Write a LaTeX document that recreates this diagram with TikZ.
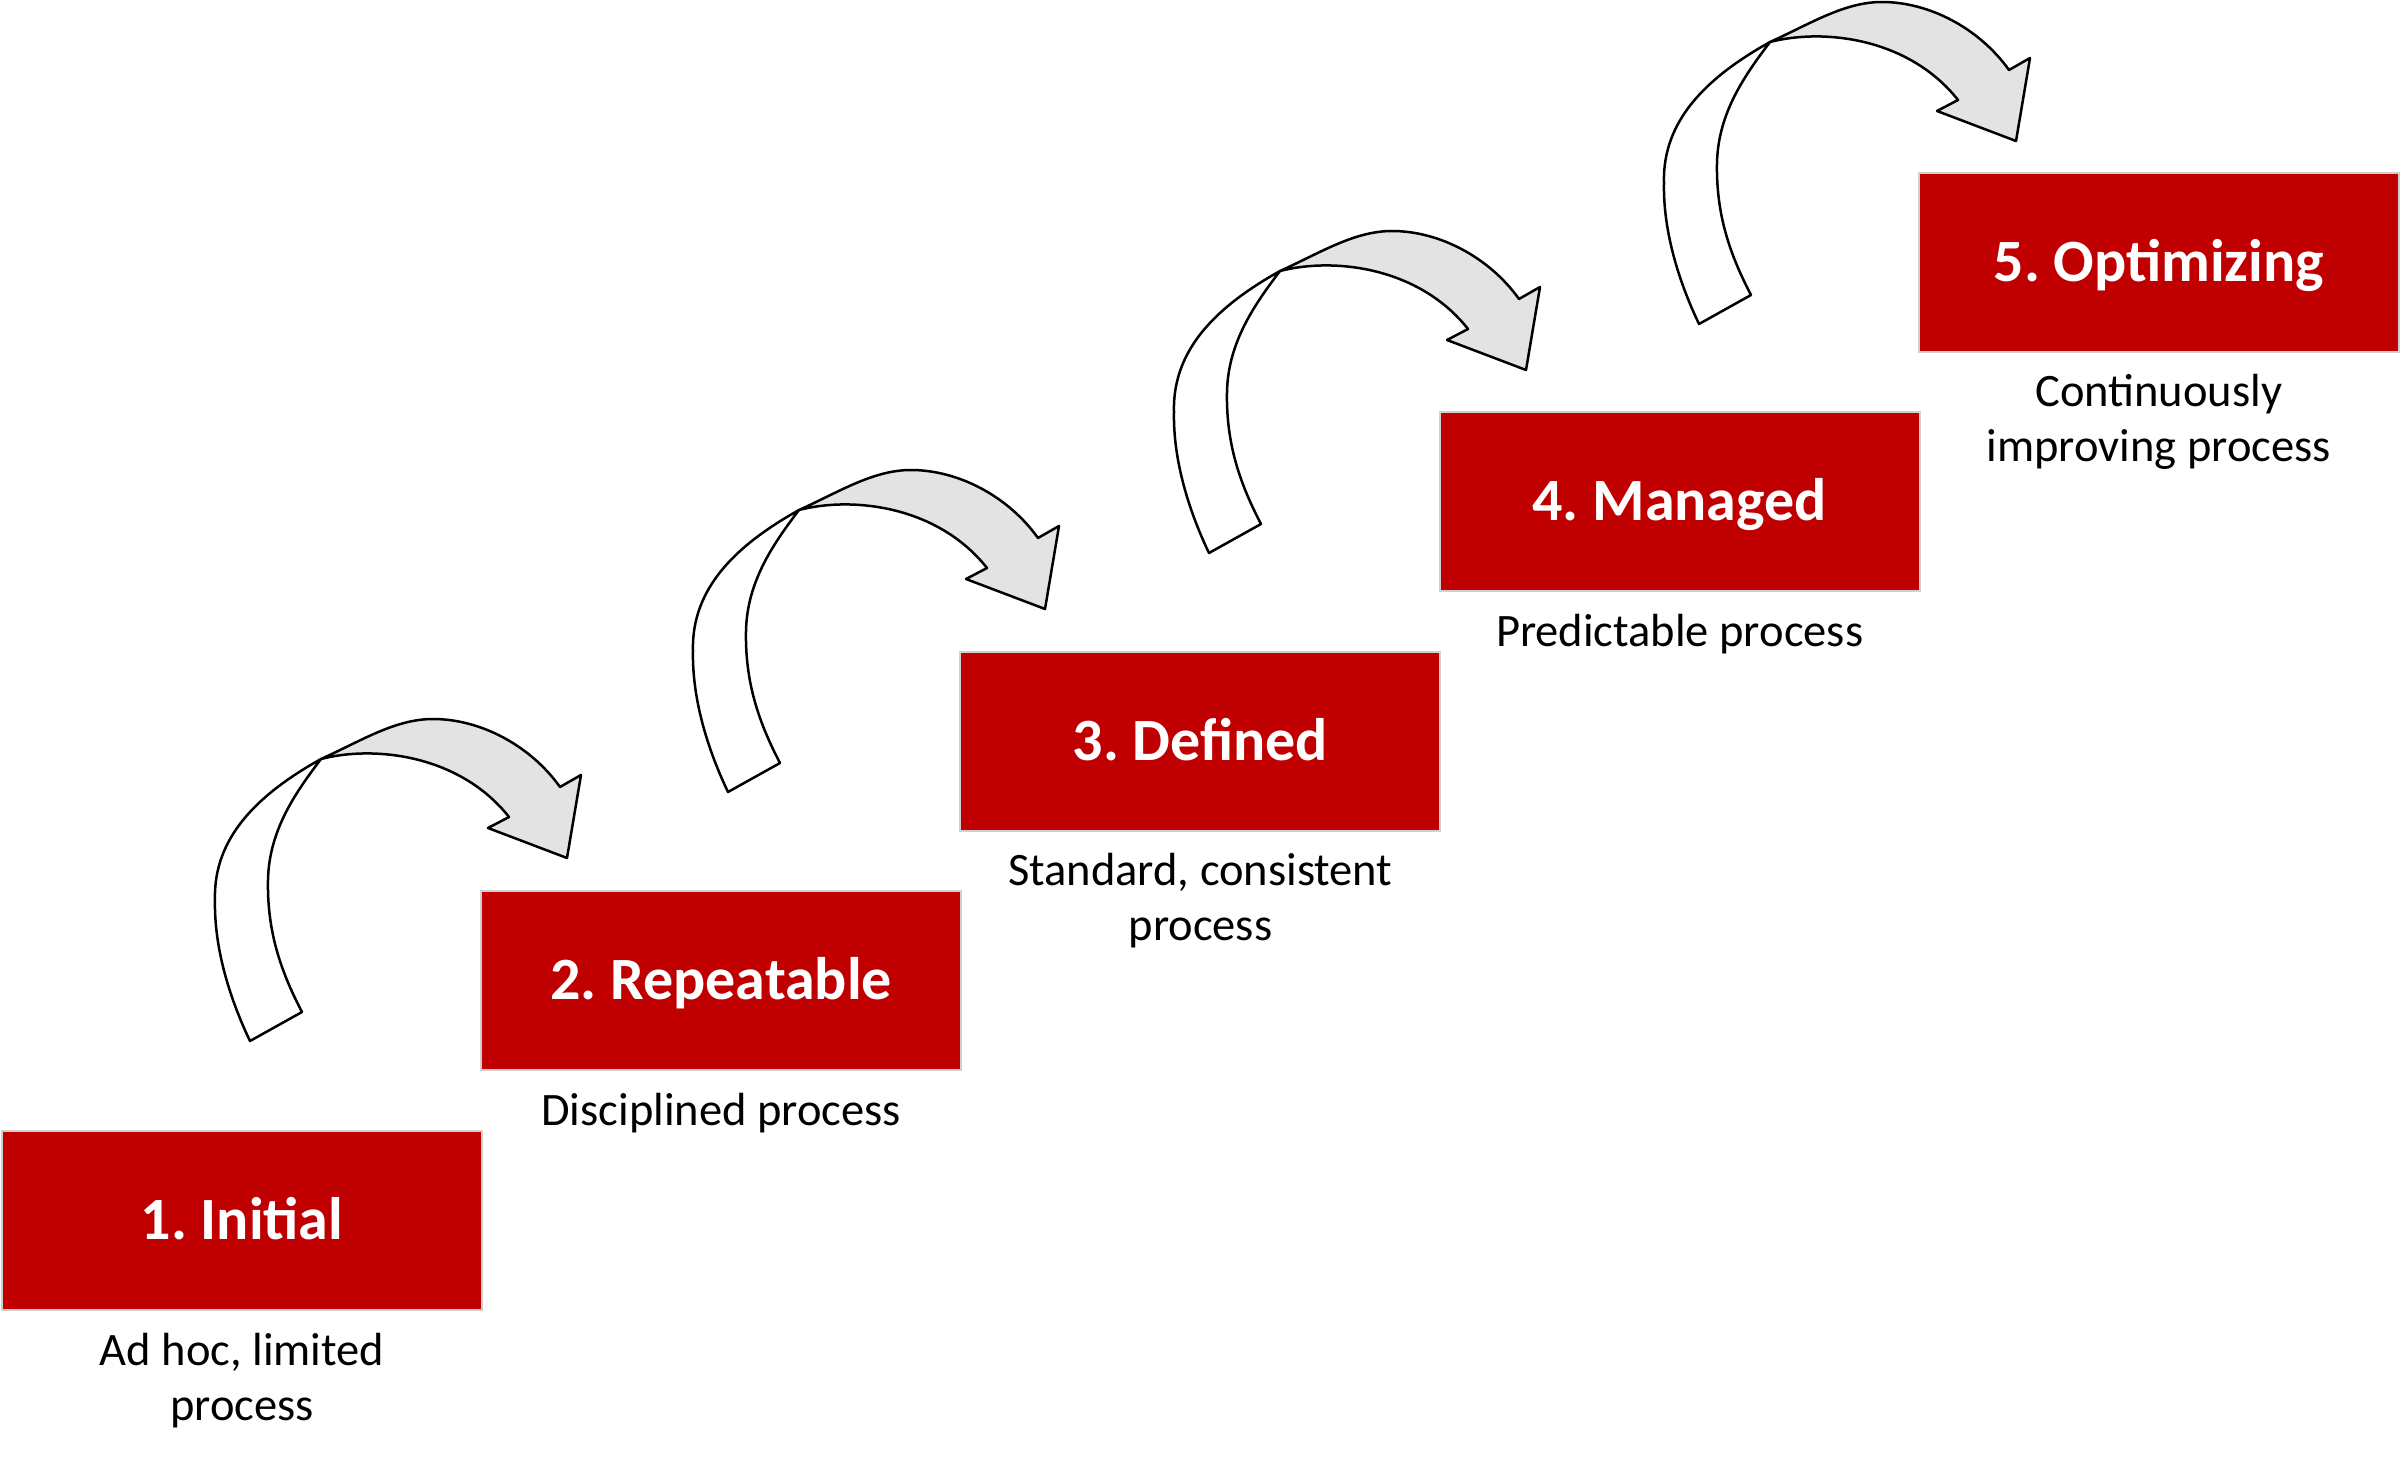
\documentclass[tikz,border=0pt]{standalone}
\usepackage{fontspec}
\setmainfont{Carlito}
\usetikzlibrary{calc}
\definecolor{stagered}{HTML}{C00000}
\definecolor{boxgray}{HTML}{D0D0D0}
\definecolor{arrowgray}{HTML}{E3E3E3}
\frenchspacing
\begin{document}
\begin{tikzpicture}[x=1pt,y=-1pt,
  stage/.style={draw=boxgray, line width=2pt, fill=stagered, minimum width=480pt,
    minimum height=179pt, inner sep=0pt, outer sep=0pt, text=white,
    font=\bfseries\fontsize{60}{72}\selectfont, text height=38pt, text depth=0pt},
  desc/.style={align=center, font=\fontsize{46.5}{55}\selectfont, anchor=base, inner sep=0pt},
  arrowline/.style={draw=black, line width=2.5pt, line join=round},
  curvedarrow/.pic={
    \filldraw[arrowline, fill=white]
      (250,1041) .. controls (228,995) and (214,945) .. (215,900)
      .. controls (213,835) and (262,792) .. (321,759)
      .. controls (296,792) and (269,830) .. (268,880)
      .. controls (267,930) and (280,970) .. (302,1012) -- cycle;
    \filldraw[arrowline, fill=arrowgray]
      (321,759) .. controls (361,741) and (395,719) .. (433,719)
      .. controls (480,719) and (530,745) .. (560,787)
      -- (581,775) -- (567,858) -- (488,828) -- (509,817)
      .. controls (460,755) and (375,745) .. (321,759) -- cycle;
  }]
\useasboundingbox (0,0) rectangle (2402,1458);

% curved arrows
\pic at (0,0) {curvedarrow};
\pic at (478,-249) {curvedarrow};
\pic at (959,-488) {curvedarrow};
\pic at (1449,-717) {curvedarrow};

% stages
\node[stage] (s1) at (242,1220.5) {1. Initial};
\node[stage] (s2) at (721.2,980.9) {2. Repeatable};
\node[stage] (s3) at (1200.4,741.3) {3. Defined};
\node[stage] (s4) at (1679.6,501.7) {4. Managed};
\node[stage] (s5) at (2158.8,262.1) {5. Optimizing};

% descriptions (base anchor = baseline of the last line)
\node[desc] (d1) at ($(s1.south)+(0,110)$) {Ad hoc, limited\\process};
\node[desc] (d2) at ($(s2.south)+(0,55)$) {Disciplined process};
\node[desc] (d3) at ($(s3.south)+(0,110)$) {Standard, consistent\\process};
\node[desc] (d4) at ($(s4.south)+(0,55)$) {Predictable process};
\node[desc] (d5) at ($(s5.south)+(0,110)$) {Continuously\\improving process};
\end{tikzpicture}
\end{document}
